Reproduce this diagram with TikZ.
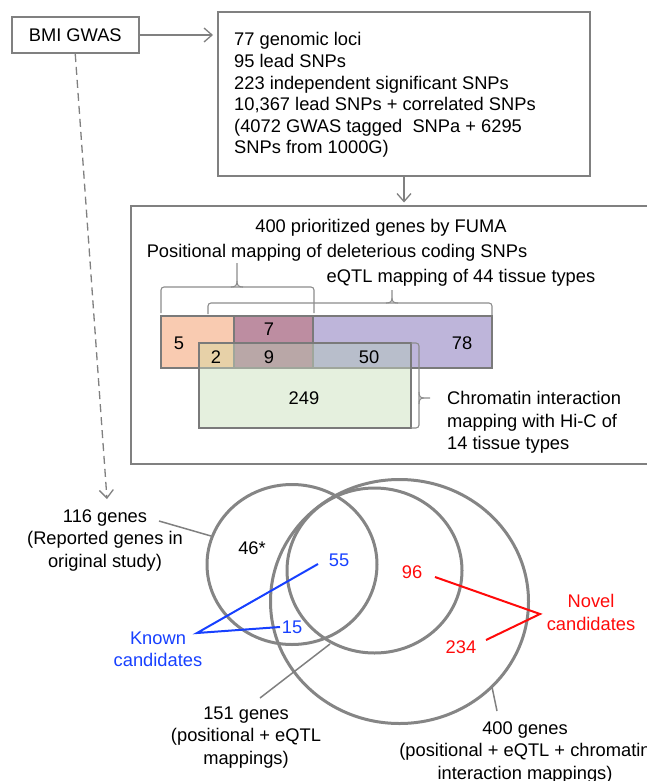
\documentclass[tikz,border=0pt]{standalone}
\usepackage{fontspec}
\setmainfont{Liberation Sans}
\usetikzlibrary{arrows.meta}
\definecolor{gline}{HTML}{808080}
\definecolor{gcirc}{HTML}{858585}
\definecolor{gbrace}{HTML}{8C8C8C}
\definecolor{rectline}{HTML}{7A7A7A}
\definecolor{innerline}{HTML}{9FA69B}
\definecolor{cpos}{HTML}{F9CBB1}
\definecolor{cseven}{HTML}{BD8DA1}
\definecolor{ceq}{HTML}{BEB5DA}
\definecolor{ctwo}{HTML}{E7D1A8}
\definecolor{cnine}{HTML}{B9A7A7}
\definecolor{cfifty}{HTML}{B8BECB}
\definecolor{cchrom}{HTML}{E5F0DE}
\definecolor{kblue}{HTML}{1740FF}
\definecolor{nred}{HTML}{FF0A0A}
\newcommand\myfsa{\fontsize{18.3}{21.6}\selectfont}
\newcommand\myfsb{\fontsize{18.3}{22.5}\selectfont}
\tikzset{
  txt/.style={inner sep=0pt, font=\myfsa},
  txtb/.style={inner sep=0pt, font=\myfsb, align=center},
  boxnode/.style={draw=gline, line width=2pt, inner sep=0pt},
  arr/.style={draw=gline, line width=1.3pt, -{Straight Barb[length=8pt,width=14pt,line width=1.3pt]}},
  darr/.style={arr, dash pattern=on 8pt off 5pt},
  rbord/.style={draw=rectline, line width=2.6pt},
  rinner/.style={draw=innerline, line width=2.6pt},
  brc/.style={draw=gbrace, line width=1.1pt},
  venn/.style={draw=gcirc, line width=3pt},
  conn/.style={draw=gline, line width=1.5pt},
  bconn/.style={draw=kblue, line width=2pt},
  rconn/.style={draw=nred, line width=2pt},
}
\begin{document}
\begin{tikzpicture}[x=1pt,y=-1pt]
\useasboundingbox (0,0) rectangle (646,781);

% ---------- top boxes ----------
\node[boxnode, minimum width=127.5pt, minimum height=36pt, font=\myfsa] (bmi) at (75.25,35) {BMI GWAS};
\node[boxnode, minimum width=372pt, minimum height=164pt] (loci) at (404,94) {};
\node[txt, anchor=north west, align=left] (locitxt) at (234,32.4)
  {77 genomic loci\\95 lead SNPs\\223 independent significant SNPs\\10,367 lead SNPs + correlated SNPs\\(4072 GWAS tagged~ SNPa + 6295\\SNPs from 1000G)};
\node[boxnode, minimum width=529pt, minimum height=258.5pt] (fuma) at (395.5,334.75) {};

\draw[arr, shorten >=4pt] (bmi) -- (loci.west |- bmi);
\draw[arr, shorten >=2pt] (loci) -- (loci.south |- fuma.north);
\coordinate (dashend) at (107,499);
\draw[darr] (bmi.south) -- (dashend);

% ---------- FUMA box texts ----------
\node[txt, anchor=base] (fumat) at (381,232.5) {400 prioritized genes by FUMA};
\node[txt, anchor=base] (post) at (337,257.5) {Positional mapping of deleterious coding SNPs};
\node[txt, anchor=base] (eqtlt) at (461,282.5) {eQTL mapping of 44 tissue types};

% ---------- rectangles ----------
\fill[cpos] (161,316) -- (234,316) -- (234,343) -- (199,343) -- (199,368) -- (161,368) -- cycle;
\fill[cseven] (234,316) rectangle (313,343);
\fill[ceq] (313,316) -- (492,316) -- (492,368) -- (411,368) -- (411,343) -- (313,343) -- cycle;
\fill[ctwo] (199,343) rectangle (234,368);
\fill[cnine] (234,343) rectangle (313,368);
\fill[cfifty] (313,343) rectangle (411,368);
\fill[cchrom] (199,368) rectangle (411,428);
\draw[rbord] (161,316) rectangle (313,368);
\draw[rbord] (234,316) rectangle (492,368);
\draw[rinner] (234,344.3) -- (234,366.7) (313,344.3) -- (313,366.7) (200.3,368) -- (409.7,368);
\draw[rbord] (199,343) rectangle (411,428);

\node[txt, anchor=base] (n5) at (179,349.5) {5};
\node[txt, anchor=base] (n7) at (269,335.5) {7};
\node[txt, anchor=base] (n2) at (216,363.5) {2};
\node[txt, anchor=base] (n9) at (269,363.5) {9};
\node[txt, anchor=base] (n50) at (369,363.5) {50};
\node[txt, anchor=base] (n78) at (462,349.5) {78};
\node[txt, anchor=base] (n249) at (304,404.5) {249};

% ---------- braces ----------
\draw[brc, rounded corners=3pt] (161,313) -- (161,287) -- (314,287) -- (314,313);
\draw[brc] (231,287) .. controls (235.5,287) and (237,285.5) .. (237,281) -- (237,263);
\draw[brc] (243,287) .. controls (238.5,287) and (237,285.5) .. (237,281);
\draw[brc, rounded corners=3pt] (208,314) -- (208,303) -- (492,303) -- (492,315);
\draw[brc] (386,303) .. controls (390.5,303) and (392,301.5) .. (392,298) -- (392,290);
\draw[brc] (398,303) .. controls (393.5,303) and (392,301.5) .. (392,298);
\draw[brc, rounded corners=3pt] (411,343) -- (419,343) -- (419,428) -- (411,428);
\draw[brc] (419,392) .. controls (419,396.5) and (420.5,398) .. (424,398) -- (430,398);
\draw[brc] (419,404) .. controls (419,399.5) and (420.5,398) .. (424,398);

\node[txtb, font=\myfsb, align=left, anchor=north west] (chromt) at (447,391.4)
  {Chromatin interaction\\mapping with Hi-C of\\14 tissue types};

% ---------- Venn ----------
\draw[venn] (292,564.5) ellipse [x radius=85, y radius=80];
\draw[venn] (374.5,570.5) ellipse [x radius=87.5, y radius=82.5];
\draw[venn] (399.5,601.5) ellipse [x radius=129, y radius=122];

\node[txtb, anchor=north] (l116) at (105,509.4) {116 genes\\(Reported genes in\\original study)};
\node[txt, anchor=base] (n46) at (252,554.5) {46*};
\node[txt, anchor=base, text=kblue] (n55) at (339,566.5) {55};
\node[txt, anchor=base, text=kblue] (n15) at (292,633.5) {15};
\node[txt, anchor=base, text=nred] (n96) at (412,578.5) {96};
\node[txt, anchor=base, text=nred] (n234) at (461,653.5) {234};
\node[txtb, anchor=north, text=nred] (novel) at (591,594.4) {Novel\\candidates};
\node[txtb, anchor=north, text=kblue] (known) at (158,631.4) {Known\\candidates};
\node[txtb, anchor=north] (l151) at (246,706.4) {151 genes\\(positional + eQTL\\mappings)};
\node[txtb, anchor=north] (l400) at (525,721.4) {400 genes\\(positional + eQTL + chromatin\\interaction mappings)};

\coordinate (a116) at (159,521);
\coordinate (b116) at (211,536);
\coordinate (a151) at (260,698);
\coordinate (b151) at (330,644);
\coordinate (a400) at (492,687);
\coordinate (b400) at (497,711);
\coordinate (k55) at (318,564);
\coordinate (kv) at (197,633);
\coordinate (k15) at (280,627);
\coordinate (r96) at (435,577);
\coordinate (rv) at (540,614);
\coordinate (r234) at (486,640);

\draw[conn] (a116) -- (b116);
\draw[conn] (a151) -- (b151);
\draw[conn] (a400) -- (b400);
\draw[bconn] (k55) -- (kv) -- (k15);
\draw[rconn] (r96) -- (rv) -- (r234);
\end{tikzpicture}
\end{document}
